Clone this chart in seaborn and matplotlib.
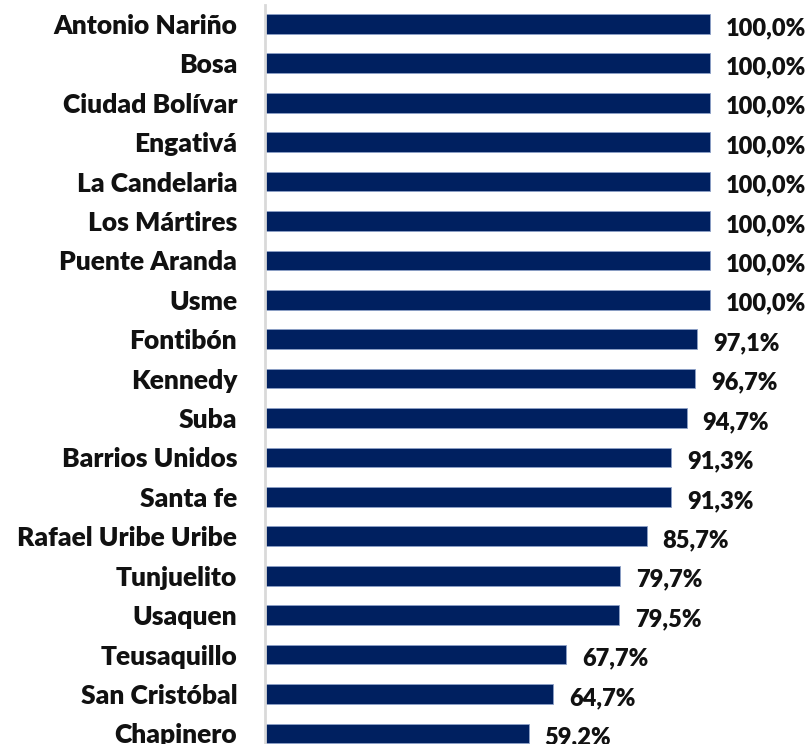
import matplotlib
matplotlib.use("Agg")
import matplotlib.pyplot as plt
import seaborn as sns
import pandas as pd

sns.set_style("white")
plt.rcParams['font.family'] = ['Lato', 'DejaVu Sans']

localidades = ["Antonio Nariño", "Bosa", "Ciudad Bolívar", "Engativá", "La Candelaria",
               "Los Mártires", "Puente Aranda", "Usme", "Fontibón", "Kennedy", "Suba",
               "Barrios Unidos", "Santa fe", "Rafael Uribe Uribe", "Tunjuelito", "Usaquen",
               "Teusaquillo", "San Cristóbal", "Chapinero"]
porcentajes = [100.0, 100.0, 100.0, 100.0, 100.0, 100.0, 100.0, 100.0, 97.1, 96.7, 94.7,
               91.3, 91.3, 85.7, 79.7, 79.5, 67.7, 64.7, 59.2]

df = pd.DataFrame({"localidad": localidades, "pct": porcentajes})

fig = plt.figure(figsize=(8.09, 7.44), dpi=100)
ax = fig.add_axes([265 / 809, 0, (809 - 265) / 809, (744 - 5) / 744])

sns.barplot(data=df, y="localidad", x="pct", orient="h", color="#002060",
            width=0.5, saturation=1, ax=ax, edgecolor="#8da0c8", linewidth=0.6)

for i, v in enumerate(porcentajes):
    ax.text(v + 3.6, i + 0.1, f"{v:.1f}%".replace(".", ","), va="center", ha="left",
            fontsize=17, fontweight="heavy", color="#111111")

ax.set_xlim(0, 122.2)
ax.set_ylim(18.27, -0.48)
ax.set_xlabel("")
ax.set_ylabel("")
ax.set_xticks([])
ax.tick_params(axis="y", length=0, pad=20)
for lab in ax.get_yticklabels():
    lab.set_fontsize(19)
    lab.set_fontweight("heavy")
    lab.set_color("#111111")

for s in ["top", "right", "bottom"]:
    ax.spines[s].set_visible(False)
ax.spines["left"].set_color("#d9d9d9")
ax.spines["left"].set_linewidth(2)

fig.savefig("out.png", dpi=100)
